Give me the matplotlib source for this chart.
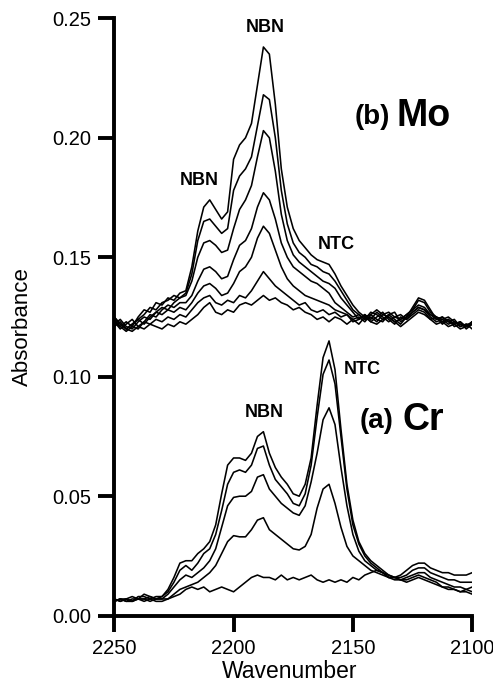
import numpy as np
import matplotlib
matplotlib.use("Agg")
import matplotlib.pyplot as plt

plt.rcParams['font.family'] = ['Liberation Sans', 'DejaVu Sans']

# Sampling grid (cm^-1), 2.5 cm^-1 steps from 2250 down to 2100
wavenumber = np.linspace(2250, 2100, 61)

# (b) Mo spectra, strongest to weakest
mo_1 = [0.124, 0.121, 0.123, 0.121, 0.125, 0.128, 0.127, 0.131, 0.130, 0.133,
        0.132, 0.135, 0.136, 0.146, 0.161, 0.171, 0.174, 0.170, 0.166, 0.169,
        0.191, 0.197, 0.200, 0.206, 0.222, 0.238, 0.235, 0.214, 0.187, 0.171,
        0.162, 0.157, 0.154, 0.151, 0.149, 0.148, 0.147, 0.143, 0.138, 0.134,
        0.130, 0.127, 0.125, 0.126, 0.128, 0.126, 0.127, 0.125, 0.124, 0.126,
        0.128, 0.132, 0.131, 0.127, 0.125, 0.124, 0.125, 0.123, 0.122, 0.121,
        0.123]
mo_2 = [0.125, 0.122, 0.120, 0.122, 0.124, 0.126, 0.129, 0.128, 0.131, 0.132,
        0.134, 0.133, 0.135, 0.143, 0.157, 0.165, 0.166, 0.163, 0.160, 0.162,
        0.178, 0.184, 0.187, 0.192, 0.205, 0.218, 0.216, 0.200, 0.178, 0.164,
        0.156, 0.152, 0.150, 0.147, 0.146, 0.144, 0.143, 0.140, 0.136, 0.132,
        0.128, 0.126, 0.124, 0.127, 0.126, 0.124, 0.126, 0.127, 0.123, 0.125,
        0.129, 0.133, 0.132, 0.128, 0.124, 0.125, 0.123, 0.124, 0.121, 0.122,
        0.122]
mo_3 = [0.122, 0.124, 0.121, 0.120, 0.123, 0.125, 0.124, 0.127, 0.129, 0.128,
        0.131, 0.133, 0.134, 0.140, 0.150, 0.156, 0.157, 0.155, 0.152, 0.153,
        0.162, 0.170, 0.174, 0.180, 0.192, 0.203, 0.200, 0.186, 0.168, 0.157,
        0.151, 0.148, 0.146, 0.144, 0.142, 0.140, 0.139, 0.137, 0.133, 0.130,
        0.127, 0.124, 0.126, 0.124, 0.127, 0.125, 0.123, 0.125, 0.126, 0.124,
        0.127, 0.129, 0.128, 0.126, 0.125, 0.123, 0.124, 0.122, 0.123, 0.121,
        0.123]
mo_4 = [0.123, 0.120, 0.122, 0.124, 0.121, 0.123, 0.126, 0.125, 0.128, 0.130,
        0.129, 0.131, 0.131, 0.134, 0.140, 0.145, 0.146, 0.144, 0.141, 0.142,
        0.149, 0.155, 0.157, 0.162, 0.171, 0.177, 0.174, 0.166, 0.156, 0.150,
        0.146, 0.144, 0.142, 0.140, 0.139, 0.137, 0.135, 0.131, 0.129, 0.127,
        0.125, 0.126, 0.124, 0.125, 0.123, 0.126, 0.125, 0.123, 0.124, 0.126,
        0.128, 0.130, 0.129, 0.126, 0.124, 0.125, 0.123, 0.122, 0.123, 0.120,
        0.122]
mo_5 = [0.121, 0.123, 0.120, 0.122, 0.124, 0.122, 0.125, 0.127, 0.126, 0.128,
        0.127, 0.129, 0.128, 0.131, 0.135, 0.138, 0.139, 0.137, 0.134, 0.135,
        0.139, 0.144, 0.146, 0.150, 0.158, 0.163, 0.160, 0.153, 0.146, 0.141,
        0.138, 0.136, 0.134, 0.133, 0.132, 0.131, 0.130, 0.128, 0.127, 0.126,
        0.124, 0.125, 0.123, 0.126, 0.124, 0.123, 0.126, 0.124, 0.122, 0.125,
        0.127, 0.129, 0.128, 0.125, 0.123, 0.124, 0.122, 0.123, 0.121, 0.122,
        0.120]
mo_6 = [0.123, 0.121, 0.119, 0.121, 0.120, 0.123, 0.122, 0.124, 0.123, 0.125,
        0.124, 0.126, 0.125, 0.128, 0.131, 0.133, 0.134, 0.131, 0.130, 0.132,
        0.131, 0.134, 0.133, 0.136, 0.140, 0.144, 0.141, 0.138, 0.136, 0.134,
        0.132, 0.130, 0.131, 0.128, 0.127, 0.128, 0.126, 0.127, 0.125, 0.126,
        0.123, 0.124, 0.126, 0.123, 0.125, 0.127, 0.124, 0.122, 0.125, 0.124,
        0.126, 0.128, 0.127, 0.124, 0.125, 0.122, 0.124, 0.121, 0.122, 0.121,
        0.123]
mo_7 = [0.125, 0.122, 0.120, 0.119, 0.121, 0.120, 0.122, 0.121, 0.120, 0.122,
        0.121, 0.123, 0.122, 0.124, 0.126, 0.129, 0.131, 0.127, 0.126, 0.128,
        0.127, 0.130, 0.131, 0.130, 0.132, 0.134, 0.132, 0.133, 0.131, 0.130,
        0.128, 0.129, 0.127, 0.126, 0.124, 0.125, 0.123, 0.125, 0.124, 0.122,
        0.124, 0.122, 0.125, 0.123, 0.122, 0.124, 0.125, 0.123, 0.121, 0.123,
        0.125, 0.127, 0.126, 0.124, 0.122, 0.123, 0.121, 0.122, 0.120, 0.121,
        0.122]

# (a) Cr spectra, strongest to weakest
cr_1 = [0.007, 0.006, 0.007, 0.006, 0.008, 0.008, 0.007, 0.008, 0.008, 0.011,
        0.016, 0.022, 0.023, 0.023, 0.026, 0.028, 0.031, 0.038, 0.051, 0.063,
        0.066, 0.066, 0.065, 0.068, 0.075, 0.077, 0.068, 0.062, 0.058, 0.055,
        0.051, 0.050, 0.055, 0.066, 0.088, 0.108, 0.115, 0.103, 0.078, 0.055,
        0.040, 0.031, 0.026, 0.023, 0.021, 0.019, 0.017, 0.016, 0.017, 0.019,
        0.021, 0.022, 0.022, 0.020, 0.019, 0.018, 0.018, 0.017, 0.017, 0.017,
        0.018]
cr_2 = [0.006, 0.007, 0.006, 0.007, 0.007, 0.009, 0.008, 0.007, 0.008, 0.010,
        0.014, 0.019, 0.021, 0.019, 0.022, 0.026, 0.028, 0.034, 0.044, 0.055,
        0.060, 0.061, 0.060, 0.063, 0.070, 0.071, 0.063, 0.057, 0.054, 0.051,
        0.047, 0.046, 0.051, 0.063, 0.083, 0.101, 0.107, 0.097, 0.075, 0.053,
        0.038, 0.030, 0.025, 0.022, 0.020, 0.018, 0.017, 0.016, 0.016, 0.017,
        0.019, 0.020, 0.020, 0.018, 0.017, 0.016, 0.015, 0.015, 0.014, 0.014,
        0.014]
cr_3 = [0.007, 0.006, 0.007, 0.008, 0.007, 0.007, 0.008, 0.007, 0.007, 0.009,
        0.012, 0.015, 0.017, 0.016, 0.018, 0.020, 0.023, 0.028, 0.037, 0.046,
        0.0495, 0.050, 0.050, 0.052, 0.058, 0.059, 0.053, 0.050, 0.047, 0.045,
        0.043, 0.042, 0.046, 0.056, 0.068, 0.082, 0.087, 0.080, 0.062, 0.046,
        0.034, 0.027, 0.023, 0.021, 0.019, 0.018, 0.016, 0.016, 0.015, 0.016,
        0.017, 0.018, 0.018, 0.016, 0.015, 0.014, 0.013, 0.012, 0.012, 0.011,
        0.012]
cr_4 = [0.006, 0.007, 0.006, 0.006, 0.007, 0.006, 0.007, 0.006, 0.006, 0.007,
        0.009, 0.011, 0.012, 0.013, 0.014, 0.016, 0.018, 0.021, 0.026, 0.031,
        0.0335, 0.033, 0.033, 0.036, 0.040, 0.041, 0.036, 0.034, 0.032, 0.030,
        0.028, 0.0275, 0.029, 0.034, 0.045, 0.053, 0.055, 0.047, 0.037, 0.029,
        0.025, 0.023, 0.021, 0.019, 0.018, 0.017, 0.016, 0.016, 0.015, 0.015,
        0.016, 0.017, 0.016, 0.015, 0.014, 0.012, 0.011, 0.011, 0.010, 0.010,
        0.009]
cr_5 = [0.006, 0.007, 0.007, 0.006, 0.007, 0.007, 0.006, 0.007, 0.007, 0.007,
        0.008, 0.009, 0.011, 0.012, 0.011, 0.012, 0.010, 0.011, 0.012, 0.011,
        0.010, 0.012, 0.014, 0.016, 0.017, 0.016, 0.016, 0.015, 0.017, 0.015,
        0.016, 0.015, 0.016, 0.017, 0.015, 0.014, 0.015, 0.014, 0.015, 0.014,
        0.016, 0.015, 0.017, 0.018, 0.019, 0.018, 0.016, 0.015, 0.015, 0.014,
        0.015, 0.016, 0.015, 0.014, 0.013, 0.012, 0.012, 0.011, 0.010, 0.011,
        0.010]

mo_spectra = [mo_1, mo_2, mo_3, mo_4, mo_5, mo_6, mo_7]
cr_spectra = [cr_1, cr_2, cr_3, cr_4, cr_5]

x_ticks = [2250, 2200, 2150, 2100]
y_ticks = [0.00, 0.05, 0.10, 0.15, 0.20, 0.25]

fig = plt.figure(figsize=(4.93, 6.86), dpi=100)
ax = fig.add_axes([0.2318, 0.1025, 0.7260, 0.8708])

for spec in mo_spectra + cr_spectra:
    ax.plot(wavenumber, spec, color='black', lw=1.15, solid_joinstyle='round')

ax.set_xlim(2250, 2100)
ax.set_ylim(0.0, 0.25)
ax.set_xticks(x_ticks)
ax.set_xticklabels([str(t) for t in x_ticks])
ax.set_yticks(y_ticks)
ax.set_yticklabels([f"{t:.2f}" for t in y_ticks])

for side in ('top', 'right'):
    ax.spines[side].set_visible(False)
for side in ('left', 'bottom'):
    ax.spines[side].set_linewidth(2.8)
ax.tick_params(axis='both', direction='out', length=11.5, width=2.8,
               labelsize=14.5, pad=5)

# Axis titles placed in figure pixels
W, H = 493, 686
fig.text(22.5 / W, 1 - 327 / H, 'Absorbance', fontsize=16, rotation=90,
         ha='center', va='center')
fig.text(290 / W, 1 - 678 / H, 'Wavenumber', fontsize=16.5,
         ha='center', va='baseline')

bold = dict(fontweight='bold', color='black')
ax.text(2186.8, 0.2461, 'NBN', fontsize=13, ha='center', va='center', **bold)
ax.text(2214.5, 0.1822, 'NBN', fontsize=13, ha='center', va='center', **bold)
ax.text(2157.1, 0.1552, 'NTC', fontsize=13, ha='center', va='center', **bold)
ax.text(2187.3, 0.0851, 'NBN', fontsize=13, ha='center', va='center', **bold)
ax.text(2146.0, 0.1030, 'NTC', fontsize=13, ha='center', va='center', **bold)

ax.text(2149.1, 0.2058, '(b)', fontsize=20, ha='left', va='baseline', **bold)
ax.text(2131.8, 0.2049, 'Mo', fontsize=27, ha='left', va='baseline', **bold)
ax.text(2147.0, 0.0786, '(a)', fontsize=20, ha='left', va='baseline', **bold)
ax.text(2129.2, 0.0778, 'Cr', fontsize=27, ha='left', va='baseline', **bold)

fig.savefig('out.png', dpi=100, facecolor='white')
